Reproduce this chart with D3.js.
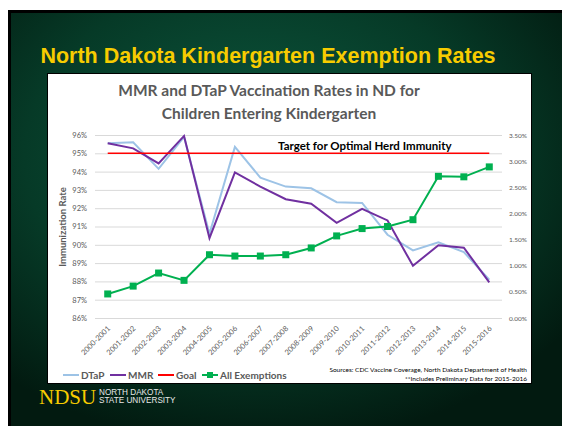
<!DOCTYPE html>
<html>
<head>
<meta charset="utf-8">
<script src="https://cdn.jsdelivr.net/npm/d3@7"></script>
<style>
  body { margin: 0; background: #fff; }
  svg { display: block; }
</style>
</head>
<body>
<div id="chart"></div>
<script>
// data
var seasons = ["2000-2001", "2001-2002", "2002-2003", "2003-2004", "2004-2005", "2005-2006",
  "2006-2007", "2007-2008", "2008-2009", "2009-2010", "2010-2011", "2011-2012",
  "2012-2013", "2013-2014", "2014-2015", "2015-2016"];
var dtap = [95.55, 95.6, 94.15, 95.9, 90.6, 95.35, 93.67, 93.18, 93.09, 92.33, 92.29, 90.55, 89.69, 90.13, 89.6, 88.09];
var mmr = [95.55, 95.27, 94.45, 95.95, 90.36, 93.96, 93.18, 92.49, 92.24, 91.2, 91.96, 91.33, 88.85, 89.98, 89.84, 87.95];
var goal = [95, 95, 95, 95, 95, 95, 95, 95, 95, 95, 95, 95, 95, 95, 95, 95];
var exemptions = [0.46, 0.61, 0.86, 0.72, 1.21, 1.185, 1.185, 1.21, 1.34, 1.57, 1.71, 1.75, 1.88, 2.71, 2.70, 2.89];
var leftTicks = [86, 87, 88, 89, 90, 91, 92, 93, 94, 95, 96];
var rightTicks = [0, 0.5, 1, 1.5, 2, 2.5, 3, 3.5];

var W = 562, H = 426;
var gray = "#595959";
var calibri = "Lato, 'Open Sans', sans-serif";

var svg = d3.select("#chart").append("svg")
    .attr("width", W)
    .attr("height", H);

// slide background
var defs = svg.append("defs");
var grad = defs.append("radialGradient")
    .attr("id", "bg")
    .attr("cx", "45%").attr("cy", "35%").attr("r", "70%");
grad.append("stop").attr("offset", "0%").attr("stop-color", "#0d5a40");
grad.append("stop").attr("offset", "60%").attr("stop-color", "#063a27");
grad.append("stop").attr("offset", "100%").attr("stop-color", "#021a10");

svg.append("rect")
    .attr("x", 8).attr("y", 10)
    .attr("width", W - 8).attr("height", H - 10)
    .attr("fill", "url(#bg)");
svg.append("path")
    .attr("d", "M9.5," + H + "V11.5H" + W)
    .attr("fill", "none")
    .attr("stroke", "#000")
    .attr("stroke-width", 3);

svg.append("text")
    .attr("x", 268).attr("y", 63)
    .attr("text-anchor", "middle")
    .attr("font-family", "'Liberation Sans', Arial, sans-serif")
    .attr("font-weight", "bold")
    .attr("font-size", 21.5)
    .attr("fill", "#f7cc00")
    .text("North Dakota Kindergarten Exemption Rates");

// white chart box
svg.append("rect")
    .attr("x", 47.5).attr("y", 73.5)
    .attr("width", 484).attr("height", 310)
    .attr("fill", "#fff")
    .attr("stroke", "#000")
    .attr("stroke-width", 1);

svg.append("text")
    .attr("text-anchor", "middle")
    .attr("font-family", calibri)
    .attr("font-weight", "bold")
    .attr("font-size", 15.5)
    .attr("fill", gray)
    .selectAll("tspan")
    .data(["MMR and DTaP Vaccination Rates in ND for", "Children Entering Kindergarten"])
    .enter().append("tspan")
      .attr("x", 269)
      .attr("y", function(d, i) { return 96 + i * 23; })
      .text(function(d) { return d; });

// plot
var x = d3.scaleBand().domain(seasons).range([95, 502]);
var yL = d3.scaleLinear().domain([86, 96]).range([318, 135]);
var yR = d3.scaleLinear().domain([0, 3.5]).range([318, 135]);
var cx = function(i) { return x(seasons[i]) + x.bandwidth() / 2; };

var grid = svg.append("g")
    .attr("transform", "translate(95,0)")
    .call(d3.axisLeft(yL).tickValues(leftTicks).tickSize(-407).tickFormat(""));
grid.select(".domain").remove();
grid.selectAll("line").attr("stroke", "#d9d9d9").attr("stroke-width", 1);

var axL = svg.append("g")
    .attr("transform", "translate(95,0)")
    .call(d3.axisLeft(yL).tickValues(leftTicks).tickSize(0).tickPadding(8)
      .tickFormat(function(d) { return d + "%"; }));
axL.select(".domain").remove();
axL.selectAll("text")
    .attr("font-family", calibri)
    .attr("font-size", 7.5)
    .attr("fill", gray);

var axR = svg.append("g")
    .attr("transform", "translate(502,0)")
    .call(d3.axisRight(yR).tickValues(rightTicks).tickSize(0).tickPadding(7)
      .tickFormat(function(d) { return d.toFixed(2) + "%"; }));
axR.select(".domain").remove();
axR.selectAll("text")
    .attr("font-family", calibri)
    .attr("font-size", 6.5)
    .attr("fill", gray);

var axB = svg.append("g")
    .attr("transform", "translate(0,318)")
    .call(d3.axisBottom(x).tickSize(0).tickPadding(0));
axB.select(".domain").remove();
axB.selectAll("text")
    .attr("font-family", calibri)
    .attr("font-size", 7.5)
    .attr("fill", gray)
    .attr("text-anchor", "end")
    .attr("dy", 0)
    .attr("transform", "translate(3,11) rotate(-45)");

svg.append("text")
    .attr("transform", "translate(66,227) rotate(-90)")
    .attr("text-anchor", "middle")
    .attr("font-family", calibri)
    .attr("font-weight", "bold")
    .attr("font-size", 9.5)
    .attr("fill", gray)
    .text("Immunization Rate");

var lineL = d3.line()
    .x(function(d, i) { return cx(i); })
    .y(function(d) { return yL(d); });
var lineR = d3.line()
    .x(function(d, i) { return cx(i); })
    .y(function(d) { return yR(d); });

svg.append("path").datum(dtap)
    .attr("d", lineL).attr("fill", "none")
    .attr("stroke", "#9dc3e6").attr("stroke-width", 2);
svg.append("path").datum(mmr)
    .attr("d", lineL).attr("fill", "none")
    .attr("stroke", "#7030a0").attr("stroke-width", 2);
svg.append("path").datum(goal)
    .attr("d", lineL).attr("fill", "none")
    .attr("stroke", "#ff0000").attr("stroke-width", 1.5);
svg.append("path").datum(exemptions)
    .attr("d", lineR).attr("fill", "none")
    .attr("stroke", "#00b050").attr("stroke-width", 2);
svg.selectAll(".mark").data(exemptions)
  .enter().append("rect")
    .attr("class", "mark")
    .attr("x", function(d, i) { return cx(i) - 3.5; })
    .attr("y", function(d) { return yR(d) - 3.5; })
    .attr("width", 7).attr("height", 7)
    .attr("fill", "#00b050");

svg.append("text")
    .attr("x", 278).attr("y", yL(95) - 3)
    .attr("font-family", calibri)
    .attr("font-weight", "bold")
    .attr("font-size", 11.5)
    .attr("fill", "#000")
    .text("Target for Optimal Herd Immunity");

// legend
var legend = [
  {name: "DTaP", color: "#9dc3e6", x: 63},
  {name: "MMR", color: "#7030a0", x: 110},
  {name: "Goal", color: "#ff0000", x: 158},
  {name: "All Exemptions", color: "#00b050", x: 202, marker: true}
];
var lg = svg.selectAll(".lg").data(legend)
  .enter().append("g")
    .attr("class", "lg")
    .attr("transform", function(d) { return "translate(" + d.x + ",375)"; });
lg.append("line")
    .attr("x1", 0).attr("x2", 16)
    .attr("stroke", function(d) { return d.color; })
    .attr("stroke-width", 2);
lg.filter(function(d) { return d.marker; }).append("rect")
    .attr("x", 5).attr("y", -3).attr("width", 6).attr("height", 6)
    .attr("fill", function(d) { return d.color; });
lg.append("text")
    .attr("x", 18).attr("y", 3.5)
    .attr("font-family", calibri)
    .attr("font-weight", "bold")
    .attr("font-size", 10)
    .attr("fill", gray)
    .text(function(d) { return d.name; });

svg.append("text")
    .attr("text-anchor", "end")
    .attr("font-family", calibri)
    .attr("font-size", 6.5)
    .attr("fill", "#000")
    .selectAll("tspan")
    .data(["Sources: CDC Vaccine Coverage, North Dakota Department of Health",
           "**Includes Preliminary Data for 2015-2016"])
    .enter().append("tspan")
      .attr("x", 527)
      .attr("y", function(d, i) { return 372 + i * 8.5; })
      .text(function(d) { return d; });

// NDSU logo
svg.append("text")
    .attr("x", 39).attr("y", 404)
    .attr("font-family", "'Liberation Serif', 'DejaVu Serif', serif")
    .attr("font-size", 21)
    .attr("fill", "#f7cc00")
    .text("NDSU");
svg.append("text")
    .attr("font-family", "'Liberation Sans', Arial, sans-serif")
    .attr("font-size", 8.2)
    .attr("fill", "#e8e8e8")
    .selectAll("tspan")
    .data(["NORTH DAKOTA", "STATE UNIVERSITY"])
    .enter().append("tspan")
      .attr("x", 99)
      .attr("y", function(d, i) { return 395 + i * 8; })
      .text(function(d) { return d; });
</script>
</body>
</html>
